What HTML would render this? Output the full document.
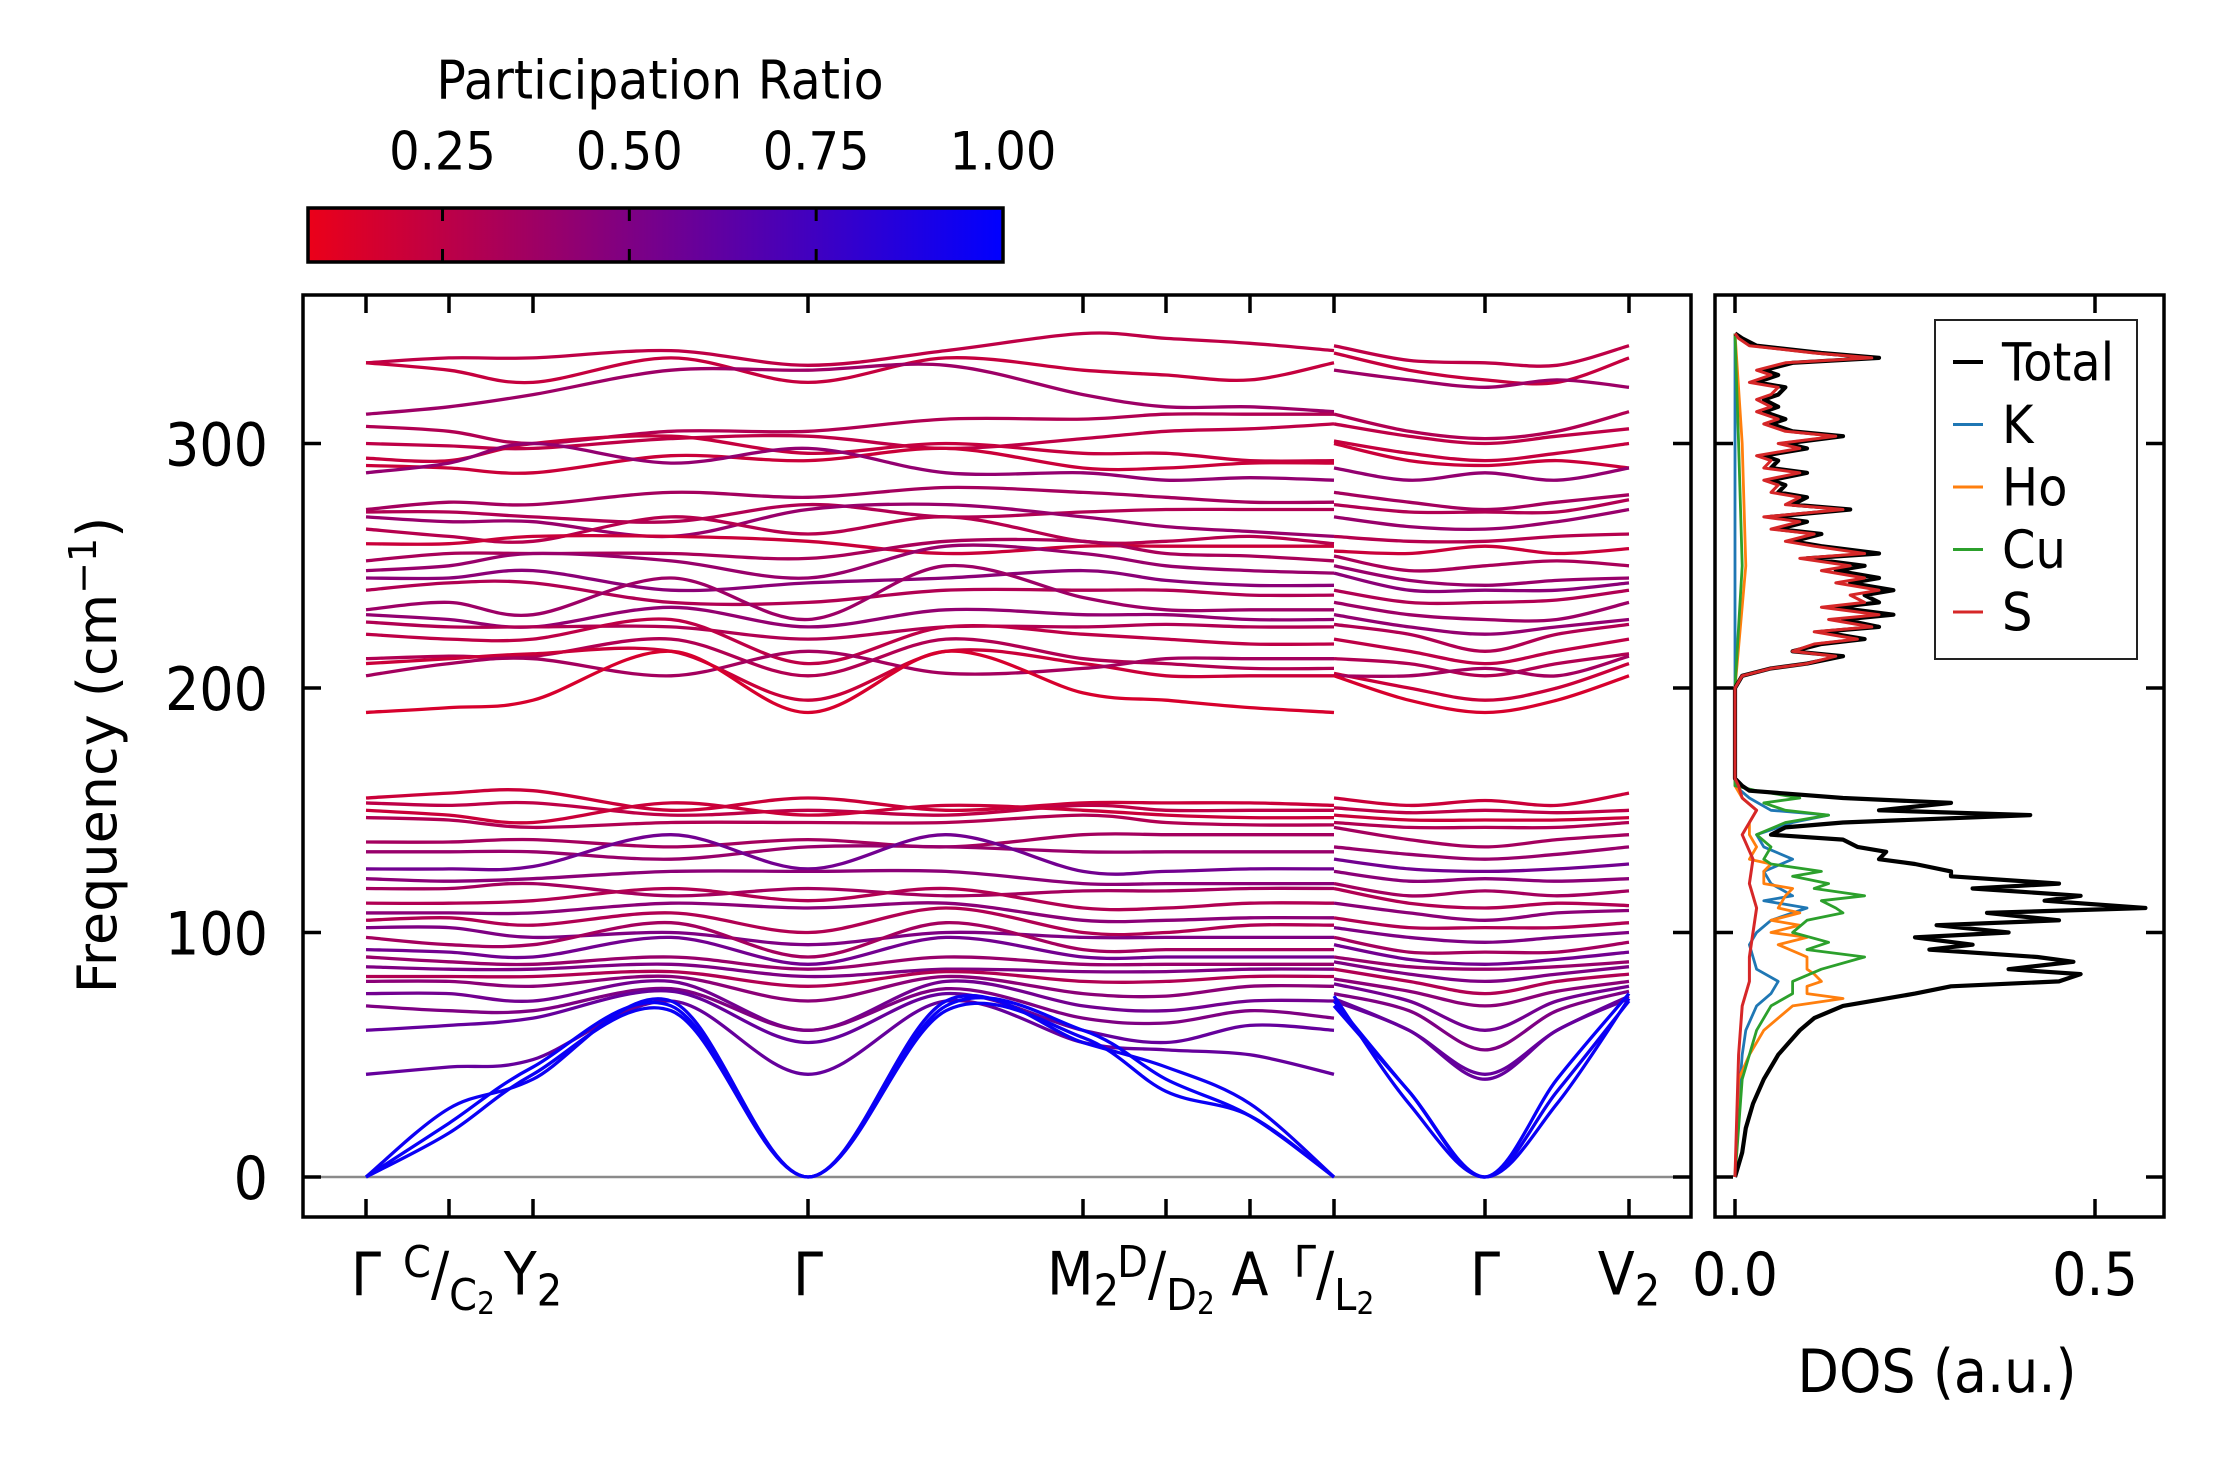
<!DOCTYPE html>
<html><head><meta charset="utf-8">
<style>
html,body{margin:0;padding:0;background:#fff;}
svg text{font-family:"DejaVu Sans","Liberation Sans",sans-serif;fill:#000;transform-box:fill-box;transform-origin:center;transform:scaleY(1.1);}
svg text.rot{transform:rotate(-90deg);}
</style></head>
<body>
<svg id="chart" xmlns="http://www.w3.org/2000/svg" width="2222" height="1455" viewBox="0 0 2222 1455">
<defs>
<linearGradient id="cmapgrad" x1="0" x2="1" y1="0" y2="0">
<stop offset="0" stop-color="rgb(235,0,25)"/><stop offset="1" stop-color="rgb(0,0,255)"/>
</linearGradient>
<clipPath id="mainclip"><rect x="304" y="296" width="1386" height="920"/></clipPath>
<clipPath id="dosclip"><rect x="1716" y="296" width="447" height="920"/></clipPath>
</defs>
<rect width="2222" height="1455" fill="#fff"/>

<g>
<text x="660" y="97" font-size="49" text-anchor="middle">Participation Ratio</text>
<rect x="308" y="208" width="695" height="54" fill="url(#cmapgrad)" stroke="#000" stroke-width="3.5"/>
<g id="cbticks"></g>
</g>

<g>
<line x1="304" x2="1690" y1="1177" y2="1177" stroke="#8a8a8a" stroke-width="2.5"/>
<g id="bands" clip-path="url(#mainclip)"></g>
<rect x="303" y="295" width="1388" height="922" fill="none" stroke="#000" stroke-width="3.5"/>
<g id="mainticks"></g>
<text class="rot" x="95" y="776" font-size="54" text-anchor="middle">Frequency (cm<tspan dy="-20" font-size="38">−1</tspan><tspan dy="20">)</tspan></text>
</g>

<g>
<g id="dos" clip-path="url(#dosclip)"></g>
<rect x="1715" y="295" width="449" height="922" fill="none" stroke="#000" stroke-width="3.5"/>
<g id="dosticks"></g>
<text x="1937" y="1390" font-size="54" text-anchor="middle">DOS (a.u.)</text>
<g>
<rect x="1935" y="320" width="202" height="339" fill="#fff" stroke="#222" stroke-width="2"/>
<g id="legend"></g>
</g>
</g>
</svg>
<script>
// ---------- DATA ----------
const kLabels=["Γ","C/C2","Y2","Γ","M2","D/D2","A","Γ/L2","Γ","V2"];
const yTicks=[0,100,200,300];
const cbTicks=["0.25","0.50","0.75","1.00"];
const dosTicks=["0.0","0.5"];
const prRange=[0.07,1.0];
// cumulative path distance of high-symmetry points
const kTickPos=[0,83,167,442,717,800,884,968,1119,1263];
const kNodesA=[0,83,167,305,442,580,717,800,884,968];
const kNodesB=[968,1043,1119,1191,1263];
const bandsA=[
[333,335,335,338,332,338,345,343,341,338],
[333,330,325,335,325,335,330,328,326,333],
[312,315,320,330,330,332,320,315,315,313],
[307,305,300,305,305,310,310,312,312,312],
[300,299,298,302,303,298,302,305,306,308],
[294,293,300,303,296,300,296,296,293,293],
[291,290,288,295,293,298,290,290,292,292],
[288,292,300,292,298,288,288,285,286,285],
[273,276,275,280,278,282,280,278,276,276],
[272,272,270,268,275,270,272,273,273,273],
[270,268,268,262,273,275,270,266,264,262],
[265,262,260,270,263,270,260,260,262,259],
[259,259,262,262,260,255,258,258,258,258],
[252,255,255,255,253,260,260,255,254,252],
[248,250,255,252,245,258,255,250,248,247],
[245,245,248,240,243,245,248,244,242,242],
[240,243,243,235,235,240,240,240,238,238],
[232,235,230,245,228,250,237,232,232,232],
[230,228,225,233,225,232,230,230,228,228],
[227,225,225,225,220,225,225,226,225,225],
[222,220,220,228,210,225,222,220,218,218],
[212,213,213,220,205,220,212,210,208,208],
[210,212,214,215,195,215,210,205,205,205],
[205,210,212,205,215,206,208,212,212,212],
[190,192,195,215,190,215,198,195,192,190],
[155,157,158,150,155,150,153,153,153,152],
[153,152,153,148,150,148,152,150,150,150],
[150,148,145,153,148,152,150,148,147,147],
[147,146,143,145,145,145,148,145,144,144],
[137,137,138,135,138,135,140,140,140,140],
[133,133,133,130,135,135,133,133,133,133],
[126,126,127,140,126,140,125,125,126,126],
[122,121,122,125,125,125,120,120,120,120],
[118,118,120,115,118,115,117,117,118,118],
[112,112,113,118,113,118,110,110,112,112],
[108,108,108,112,110,112,105,105,106,106],
[105,106,103,108,100,110,100,100,103,103],
[102,102,98,100,95,100,98,98,98,98],
[98,95,95,104,90,104,93,93,93,93],
[93,92,90,98,87,98,90,90,90,90],
[90,88,87,90,85,90,87,87,87,87],
[86,85,85,87,82,85,84,84,85,85],
[82,82,82,84,78,84,80,80,82,82],
[80,80,78,82,72,82,75,74,78,78],
[75,75,72,80,60,80,70,68,72,72],
[70,68,68,77,60,77,65,63,68,65],
[60,62,65,76,55,75,60,55,62,60],
[42,45,48,72,42,72,55,52,50,42],
[0,28,40,72,0,72,55,45,30,0],
[0,22,45,70,0,70,60,40,25,0],
[0,18,42,68,0,68,57,35,25,0]
];
const bandsB=[
[340,334,333,332,340],[337,330,326,325,335],[330,326,323,326,323],[312,305,302,305,313],
[308,303,300,303,306],[301,296,293,296,300],[300,293,291,293,290],[290,285,288,285,290],
[280,276,273,276,279],[275,272,272,272,277],[270,266,265,268,273],[262,260,260,262,263],
[256,255,258,255,257],[254,248,250,252,250],[250,244,242,244,245],[247,240,240,240,243],
[240,235,235,236,240],[235,230,228,228,235],[230,225,222,225,228],[226,222,215,222,226],
[220,215,210,215,220],[212,210,205,210,214],[206,200,195,200,210],[205,205,208,205,213],
[205,195,190,195,205],
[155,152,154,152,157],[151,149,150,149,150],[148,146,146,146,147],[145,143,143,143,145],
[143,138,135,138,140],[135,132,130,132,135],[130,126,125,126,128],[125,121,122,121,122],
[120,115,117,115,117],[118,112,110,112,111],[112,108,105,108,109],[106,102,102,102,104],
[102,98,96,98,100],[98,92,92,92,96],[95,89,87,89,92],[90,86,85,86,88],[88,83,80,83,86],
[85,80,75,80,83],[81,76,70,76,80],[79,72,60,72,78],[75,68,52,68,76],[73,60,42,60,74],
[72,60,40,60,73],[70,35,0,35,72],[72,35,0,40,75],[74,30,0,30,73]
];
const bandPR=[0.25,0.22,0.38,0.3,0.25,0.22,0.2,0.42,0.35,0.3,0.4,0.28,0.2,0.33,0.4,0.45,0.3,0.38,0.42,0.3,0.25,0.3,0.2,0.35,0.15,
0.2,0.25,0.2,0.3,0.35,0.4,0.55,0.45,0.35,0.3,0.45,0.3,0.5,0.35,0.55,0.4,0.5,0.3,0.45,0.55,0.5,0.6,0.6,0.95,0.97,0.96];
const dosTotalF=[0,10,20,30,40,50,55,60,65,70,75,78,80,83,85,88,90,93,95,98,100,103,105,108,110,113,115,118,120,123,125,128,130,133,135,138,140,143,145,148,150,153,155,158,160,163,200,205,208,210,213,215,218,220,223,225,228,230,233,235,238,240,243,245,248,250,253,255,258,260,263,265,268,270,273,275,278,280,283,285,288,290,293,295,298,300,303,305,308,310,313,315,318,320,323,325,328,330,333,335,337,340,343,345];
const dosTotal=[0,0.01,0.015,0.025,0.04,0.06,0.075,0.09,0.11,0.15,0.25,0.3,0.45,0.48,0.38,0.47,0.42,0.27,0.33,0.25,0.38,0.28,0.45,0.35,0.57,0.43,0.48,0.33,0.45,0.3,0.3,0.25,0.2,0.21,0.17,0.15,0.05,0.07,0.15,0.41,0.2,0.3,0.15,0.02,0.01,0,0,0.01,0.05,0.1,0.15,0.08,0.12,0.18,0.12,0.2,0.15,0.22,0.14,0.2,0.18,0.22,0.16,0.2,0.14,0.18,0.1,0.2,0.12,0.08,0.12,0.06,0.1,0.05,0.16,0.08,0.1,0.06,0.07,0.05,0.1,0.05,0.06,0.04,0.1,0.07,0.15,0.08,0.05,0.07,0.04,0.06,0.04,0.06,0.07,0.03,0.06,0.04,0.08,0.2,0.12,0.03,0.01,0];
const dosSF=[0,50,70,80,90,100,110,120,130,140,150,155,160,163,200,205,208,210,213,215,218,220,223,225,228,230,233,235,238,240,243,245,248,250,253,255,258,260,263,265,268,270,273,275,278,280,283,285,288,290,293,295,298,300,303,305,308,310,313,315,318,320,323,325,328,330,333,335,337,340,343,345];
const dosS=[0,0.005,0.01,0.02,0.02,0.025,0.03,0.02,0.025,0.01,0.03,0.01,0.005,0,0,0.01,0.05,0.1,0.14,0.08,0.11,0.17,0.11,0.19,0.13,0.2,0.12,0.18,0.16,0.2,0.14,0.18,0.12,0.16,0.09,0.18,0.11,0.07,0.11,0.05,0.09,0.04,0.15,0.07,0.09,0.05,0.06,0.04,0.09,0.04,0.05,0.03,0.09,0.06,0.14,0.07,0.04,0.06,0.03,0.05,0.03,0.05,0.06,0.02,0.05,0.03,0.07,0.19,0.11,0.02,0.005,0];
const dosCuF=[0,40,60,70,75,80,85,90,93,96,100,105,108,110,113,115,118,120,123,125,128,130,135,140,145,148,150,153,155,158,160,200,250,300,345];
const dosCu=[0,0.01,0.03,0.05,0.08,0.08,0.12,0.18,0.1,0.13,0.08,0.1,0.15,0.14,0.12,0.18,0.11,0.13,0.08,0.12,0.05,0.04,0.05,0.03,0.07,0.13,0.07,0.04,0.09,0.03,0,0,0.01,0.005,0];
const dosHoF=[0,40,50,60,65,70,73,75,78,80,83,85,90,95,98,100,103,105,108,110,115,118,120,125,128,130,135,140,145,150,155,160,200,250,300,345];
const dosHo=[0,0.005,0.02,0.04,0.06,0.08,0.15,0.1,0.1,0.12,0.11,0.1,0.1,0.06,0.1,0.05,0.09,0.05,0.09,0.06,0.07,0.08,0.04,0.04,0.05,0.02,0.03,0.02,0.02,0.03,0.01,0,0,0.015,0.01,0];
const dosKF=[0,30,50,60,70,75,80,85,90,95,100,105,110,113,115,120,125,130,135,140,145,148,150,155,160,200,345];
const dosK=[0,0.005,0.01,0.015,0.03,0.05,0.06,0.03,0.025,0.02,0.03,0.05,0.1,0.04,0.08,0.05,0.04,0.08,0.04,0.03,0.08,0.13,0.05,0.02,0,0,0];
const legendNames=["Total","K","Ho","Cu","S"];

// ---------- SCALES ----------
const NS="http://www.w3.org/2000/svg";
const kx=k=>366+k;
const fy=f=>1177-f*2.445;
const dx=d=>1735+d*720;
const cbx=v=>308+(v-prRange[0])/(prRange[1]-prRange[0])*695;
function mk(tag,attrs,parent){const e=document.createElementNS(NS,tag);for(const a in attrs)e.setAttribute(a,attrs[a]);parent.appendChild(e);return e;}
function cmap(v){const u=Math.max(0,Math.min(1,(v-prRange[0])/(prRange[1]-prRange[0])));return `rgb(${Math.round(235*(1-u))},0,${Math.round(25+230*u)})`;}
function spline(xs,ys){let d=`M${xs[0]},${ys[0]}`;for(let i=0;i<xs.length-1;i++){const x0=xs[Math.max(0,i-1)],y0=ys[Math.max(0,i-1)],x1=xs[i],y1=ys[i],x2=xs[i+1],y2=ys[i+1],x3=xs[Math.min(xs.length-1,i+2)],y3=ys[Math.min(xs.length-1,i+2)];
const c1x=x1+(x2-x0)/6,c1y=y1+(y2-y0)/6,c2x=x2-(x3-x1)/6,c2y=y2-(y3-y1)/6;d+=` C${c1x.toFixed(1)},${c1y.toFixed(1)} ${c2x.toFixed(1)},${c2y.toFixed(1)} ${x2.toFixed(1)},${y2.toFixed(1)}`;}return d;}

const gB=document.getElementById('bands');
bandsA.forEach((b,i)=>{
 const p=mk('path',{d:spline(kNodesA.map(kx),b.map(fy)),fill:'none',stroke:cmap(bandPR[i]),'stroke-width':3.3},gB);
 
 
});
bandsB.forEach((b,i)=>{
 const p=mk('path',{d:spline(kNodesB.map(kx),b.map(fy)),fill:'none',stroke:cmap(bandPR[i]),'stroke-width':3.3},gB);
 
 
});

const gT=document.getElementById('mainticks');
kTickPos.forEach((k,i)=>{
 const x=kx(k);
 mk('line',{x1:x,x2:x,y1:1217,y2:1199,stroke:'#000','stroke-width':3.5},gT);
 mk('line',{x1:x,x2:x,y1:295,y2:313,stroke:'#000','stroke-width':3.5},gT);
 const lab=kLabels[i];
 const t=mk('text',{x:x,y:1293,'font-size':54,'text-anchor':'middle'},gT);
 if(lab.includes('/')){
  const [a,b]=lab.split('/');
  t.innerHTML=`<tspan dy="-16" font-size="40">${a}</tspan><tspan dy="16">/</tspan><tspan dy="14" font-size="40">${b[0]}</tspan><tspan font-size="28" dy="4">2</tspan>`;
 } else if(lab.endsWith('2')){
  t.innerHTML=`${lab[0]}<tspan font-size="40" dy="10">2</tspan>`;
 } else {
  t.textContent=lab;
 }
 
 
});
yTicks.forEach(v=>{
 const y=fy(v);
 mk('line',{x1:303,x2:321,y1:y,y2:y,stroke:'#000','stroke-width':3.5},gT);
 mk('line',{x1:1691,x2:1673,y1:y,y2:y,stroke:'#000','stroke-width':3.5},gT);
 const t=mk('text',{x:268,y:y+20,'font-size':54,'text-anchor':'end'},gT);
 t.textContent=v;
 
 
});

const gC=document.getElementById('cbticks');
cbTicks.forEach(s=>{
 const x=cbx(parseFloat(s));
 if(parseFloat(s)<1){
  mk('line',{x1:x,x2:x,y1:208,y2:221,stroke:'#000','stroke-width':3},gC);
  mk('line',{x1:x,x2:x,y1:262,y2:249,stroke:'#000','stroke-width':3},gC);
 }
 const t=mk('text',{x:x,y:168,'font-size':48,'text-anchor':'middle'},gC);
 t.textContent=s;
 
 
});

const gD=document.getElementById('dos');
const series=[[dosKF,dosK,'#1f77b4',2.8,'dos-k'],[dosHoF,dosHo,'#ff7f0e',2.8,'dos-ho'],[dosCuF,dosCu,'#2ca02c',2.8,'dos-cu'],[dosTotalF,dosTotal,'#000',4.2,'dos-total'],[dosSF,dosS,'#d62728',3,'dos-s']];
series.forEach(s=>{
 const pts=s[0].map((f,i)=>dx(s[1][i]).toFixed(1)+','+fy(f).toFixed(1)).join(' ');
 const p=mk('polyline',{points:pts,fill:'none',stroke:s[2],'stroke-width':s[3],'stroke-linejoin':'round'},gD);
 
 
});
const gDT=document.getElementById('dosticks');
dosTicks.forEach(s=>{
 const x=dx(parseFloat(s));
 mk('line',{x1:x,x2:x,y1:1217,y2:1199,stroke:'#000','stroke-width':3.5},gDT);
 mk('line',{x1:x,x2:x,y1:295,y2:313,stroke:'#000','stroke-width':3.5},gDT);
 const t=mk('text',{x:x,y:1293,'font-size':54,'text-anchor':'middle'},gDT);
 t.textContent=s;
 
 
});
yTicks.forEach(v=>{
 const y=fy(v);
 mk('line',{x1:1715,x2:1733,y1:y,y2:y,stroke:'#000','stroke-width':3.5},gDT);
 mk('line',{x1:2164,x2:2146,y1:y,y2:y,stroke:'#000','stroke-width':3.5},gDT);
});
const gL=document.getElementById('legend');
const legCols=['#000','#1f77b4','#ff7f0e','#2ca02c','#d62728'];
legendNames.forEach((n,i)=>{
 const y=362+i*62.5;
 mk('line',{x1:1953,x2:1983,y1:y,y2:y,stroke:legCols[i],'stroke-width':i===0?4:3},gL);
 const t=mk('text',{x:2002,y:y+17,'font-size':48},gL);
 t.textContent=n;
 
 
});
</script>
</body></html>
